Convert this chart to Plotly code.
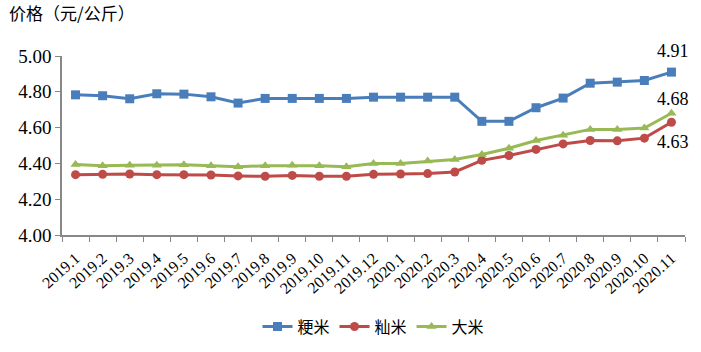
import plotly.graph_objects as go

months = ["2019.1","2019.2","2019.3","2019.4","2019.5","2019.6","2019.7","2019.8","2019.9","2019.10","2019.11","2019.12",
          "2020.1","2020.2","2020.3","2020.4","2020.5","2020.6","2020.7","2020.8","2020.9","2020.10","2020.11"]
japonica = [4.783,4.778,4.761,4.789,4.787,4.772,4.737,4.763,4.763,4.763,4.763,4.770,
            4.770,4.770,4.770,4.635,4.635,4.711,4.765,4.848,4.854,4.863,4.91]
indica = [4.337,4.339,4.341,4.337,4.337,4.335,4.330,4.328,4.333,4.328,4.328,4.339,
          4.341,4.343,4.352,4.417,4.444,4.478,4.509,4.528,4.526,4.541,4.63]
rice = [4.394,4.387,4.389,4.389,4.392,4.387,4.381,4.387,4.389,4.387,4.381,4.400,
        4.400,4.413,4.422,4.450,4.485,4.528,4.557,4.590,4.589,4.598,4.68]
names = ["粳米", "籼米", "大米"]
colors = ["#4A7EBB", "#BE4B48", "#98B954"]
symbols = ["square", "circle", "triangle-up"]

CJK = "Noto Sans CJK SC"
SERIF = "Liberation Serif"

fig = go.Figure()
for name, vals, c, s in zip(names, [japonica, indica, rice], colors, symbols):
    fig.add_trace(go.Scatter(x=months, y=vals, name=name, mode="lines+markers",
                             line=dict(color=c, width=3),
                             marker=dict(symbol=s, size=9, color=c)))

# end-point labels
label_shifts = [21, -20, 14]
last = len(months) - 1
for vals, sh in zip([japonica, indica, rice], label_shifts):
    fig.add_annotation(x=last, y=vals[-1], xref="x", yref="y", text=f"{vals[-1]:.2f}",
                       showarrow=False, yshift=sh, xshift=2,
                       font=dict(family=SERIF, size=18, color="#000"))

fig.add_annotation(text="价格（元/公斤）", xref="paper", yref="paper", x=-0.088, y=1.16,
                   xanchor="left", yanchor="bottom", showarrow=False,
                   font=dict(family=CJK, size=17, color="#000"))

fig.update_layout(
    width=701, height=352,
    margin=dict(l=62, r=16, t=56, b=117, autoexpand=False),
    plot_bgcolor="white", paper_bgcolor="white",
    showlegend=True,
    legend=dict(orientation="h", x=0.5, xanchor="center", xref="paper",
                y=0.072, yanchor="middle", yref="container",
                font=dict(family=CJK, size=16, color="#000"), itemwidth=30),
    xaxis=dict(type="category", range=[-0.5, 22.5], showgrid=False, automargin=False,
               showline=True, linecolor="#888", linewidth=1.5,
               ticks="outside", tickson="boundaries", ticklen=5, tickcolor="#888",
               tickangle=-42, ticklabelstandoff=6,
               tickfont=dict(family=SERIF, size=16, color="#000")),
    yaxis=dict(range=[4.0, 5.0], dtick=0.2, tickformat=".2f", showgrid=False, automargin=False,
               showline=True, linecolor="#888", linewidth=1.5,
               ticks="outside", ticklen=5, tickcolor="#888",
               tickfont=dict(family=SERIF, size=19, color="#000")),
)

fig.write_html("out.html")
